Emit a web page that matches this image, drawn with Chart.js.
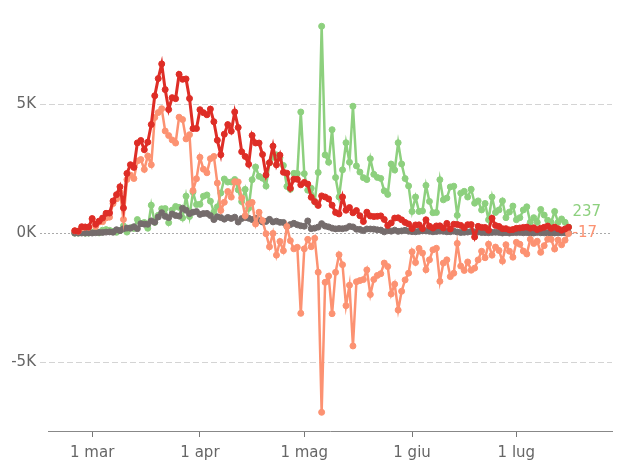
<!DOCTYPE html>
<html>
<head>
<meta charset="utf-8">
<script src="https://cdn.jsdelivr.net/npm/chart.js@4.4.1/dist/chart.umd.min.js"></script>
<style>
  html, body { margin: 0; padding: 0; background: #fff; }
  #wrap { width: 621px; height: 461px; }
</style>
</head>
<body>
<div id="wrap"><canvas id="chart" width="621" height="461"></canvas></div>
<script>
// giorno per giorno dal 25 febbraio al 16 luglio 2020
const startDate = '2020-02-25';

const nuoviPositivi = [
  93, 78, 250, 238, 240,
  566, 342, 466, 587, 769, 778, 1247, 1492, 1797, 977, 2313, 2651, 2547, 3497, 3590, 3233, 3526, 4207, 5322, 5986, 6557, 5560, 4789, 5249, 5210, 6153, 5959, 5974, 5217, 4050, 4053,
  4782, 4668, 4585, 4805, 4316, 3599, 3039, 3836, 4204, 3951, 4694, 4092, 3153, 2972, 2667, 3786, 3493, 3491, 3047, 2256, 2729, 3370, 2646, 3021, 2357, 2324, 1739, 2091, 2086, 1872,
  1965, 1900, 1389, 1221, 1075, 1444, 1401, 1327, 1083, 802, 744, 1402, 888, 992, 789, 875, 675, 451, 813, 665, 642, 652, 669, 531, 300, 397, 584, 593, 516, 416, 355,
  178, 318, 321, 177, 518, 270, 197, 280, 283, 202, 379, 163, 346, 338, 301, 210, 328, 331, -148, 264, 224, 221, 113, 577, 296, 259, 175, 174, 126, 142,
  187, 201, 223, 235, 192, 208, 138, 193, 229, 276, 188, 234, 169, 114, 162, 230
];

const variazionePositivi = [
  90, 74, 203, 233, 228,
  528, 258, 428, 443, 590, 620, 1145, 1326, 1598, 529, 2076, 2249, 2116, 2795, 2853, 2470, 2989, 2648, 4480, 4670, 4821, 3957, 3780, 3612, 3491, 4492, 4401, 3651, 3815, 1648, 2107,
  2937, 2477, 2339, 2886, 2972, 1941, 880, 1195, 1615, 1396, 1996, 1984, 1363, 675, 1127, 1189, 355, 809, 486, -20, -528, -10, -851, -321, -680, 256, -290, -608, -548, -3106,
  -608, -239, -525, -199, -1513, -6939, -1904, -1663, -3119, -1518, -836, -1222, -2809, -2017, -4370, -1883, -1836, -1798, -1424, -2377, -1792, -1638, -1570, -1158, -1294, -2358, -1976, -2980, -2250, -1810, -1550,
  -722, -1137, -590, -771, -1417, -1032, -646, -585, -1866, -1159, -1034, -1683, -1552, -396, -1275, -1444, -1115, -1435, -1355, -1035, -700, -952, -425, -853, -538, -671, -1083, -448, -700, -931,
  -354, -429, -692, -806, -235, -400, -312, -742, -483, -236, -239, -615, -264, -453, -271, -17
];

const guariti = [
  0, 2, 42, 1, 4,
  33, 66, 11, 116, 138, 109, 66, 33, 102, 280, 41, 213, 181, 527, 369, 414, 192, 1084, 415, 689, 943, 952, 408, 894, 1036, 999, 589, 1434, 646, 1590, 1109,
  1118, 1431, 1480, 1238, 819, 1022, 1555, 2099, 1979, 1985, 2079, 1677, 1224, 1695, 962, 2072, 2563, 2200, 2128, 1822, 2723, 2943, 3033, 2922, 2622, 1808, 1696, 2317, 2311, 4693,
  2304, 1665, 1740, 1225, 2352, 8014, 3031, 2747, 4008, 2155, 1401, 2452, 3502, 2747, 4917, 2605, 2366, 2150, 2075, 2881, 2278, 2160, 2120, 1639, 1502, 2677, 2443, 3503, 2679, 2115, 1830,
  840, 1400, 840, 860, 1850, 1230, 790, 800, 2070, 1290, 1360, 1790, 1820, 690, 1550, 1620, 1400, 1700, 1160, 1250, 900, 1150, 520, 1400, 800, 900, 1250, 600, 820, 1050,
  520, 600, 900, 1020, 420, 600, 420, 920, 700, 500, 420, 840, 420, 550, 420, 237
];

const deceduti = [
  3, 2, 5, 4, 8,
  5, 18, 27, 28, 41, 49, 36, 133, 97, 168, 196, 189, 250, 175, 368, 349, 345, 475, 427, 627, 793, 651, 601, 743, 683, 662, 969, 889, 756, 812, 837,
  727, 760, 766, 681, 525, 636, 604, 542, 610, 570, 619, 431, 566, 602, 578, 525, 575, 482, 433, 454, 534, 437, 464, 420, 415, 260, 333, 382, 323, 285,
  269, 474, 174, 195, 236, 369, 274, 243, 194, 165, 179, 172, 195, 262, 242, 153, 145, 99, 162, 161, 156, 130, 119, 50, 92, 78, 117, 70, 87, 111, 75,
  60, 55, 71, 88, 85, 72, 53, 65, 79, 71, 53, 56, 78, 44, 26, 34, 43, 66, 47, 49, 24, 23, 18, 30, 34, 30, 8, 22, 6, 23,
  21, 30, 15, 21, 7, 8, 30, 15, 12, 12, 7, 9, 13, 17, 13, 10
];

const meseTicks = ['2020-03-01', '2020-04-01', '2020-05-01', '2020-06-01', '2020-07-01'];
const meseLabels = ['1 mar', '1 apr', '1 mag', '1 giu', '1 lug'];
const yTicks = [-5000, 0, 5000];
const yLabels = ['-5K', '0K', '5K'];

// giorni dall'inizio dell'anno
function dayOf(s) {
  const p = s.split('-').map(Number);
  return (Date.UTC(p[0], p[1] - 1, p[2]) - Date.UTC(2020, 0, 1)) / 86400000;
}
const day0 = dayOf(startDate);
const toPoints = arr => arr.map((v, i) => ({ x: day0 + i, y: v }));

const gridLines = {
  id: 'gridLines',
  beforeDatasetsDraw(chart) {
    const { ctx, chartArea } = chart;
    const ys = chart.scales.y;
    ctx.save();
    ctx.lineWidth = 1;
    yTicks.forEach(v => {
      const py = Math.round(ys.getPixelForValue(v)) + 0.5;
      ctx.setLineDash(v === 0 ? [2, 2] : [6, 3]);
      ctx.strokeStyle = v === 0 ? '#aaaaaa' : '#d4d4d4';
      ctx.beginPath();
      ctx.moveTo(chartArea.left - 8, py);
      ctx.lineTo(chartArea.right, py);
      ctx.stroke();
    });
    ctx.restore();
  }
};

// etichette con l'ultimo valore, spostate se si sovrappongono
const endLabels = {
  id: 'endLabels',
  afterDatasetsDraw(chart) {
    const { ctx } = chart;
    const items = [];
    chart.data.datasets.forEach((ds, i) => {
      if (!ds.endLabel) return;
      const meta = chart.getDatasetMeta(i);
      const pt = meta.data[meta.data.length - 1];
      const v = ds.data[ds.data.length - 1].y;
      items.push({ x: pt.x, y: pt.y, text: String(v), color: ds.borderColor });
    });
    items.sort((a, b) => b.y - a.y);
    for (let i = 1; i < items.length; i++) {
      if (items[i - 1].y - items[i].y < 21) items[i].y = items[i - 1].y - 21;
    }
    ctx.save();
    ctx.font = '15px "DejaVu Sans", Verdana, sans-serif';
    ctx.textAlign = 'left';
    ctx.textBaseline = 'middle';
    items.forEach(it => {
      ctx.fillStyle = it.color;
      ctx.fillText(it.text, it.x + 4, it.y);
    });
    ctx.restore();
  }
};

Chart.defaults.font.family = '"DejaVu Sans", Verdana, sans-serif';
Chart.defaults.font.size = 15;

const serie = (label, arr, color, width, endLabel) => ({
  label,
  data: toPoints(arr),
  borderColor: color,
  backgroundColor: color,
  borderWidth: width,
  pointRadius: 3,
  pointBorderWidth: 1,
  pointBorderColor: color,
  pointBackgroundColor: color,
  tension: 0,
  endLabel
});

new Chart(document.getElementById('chart'), {
  type: 'line',
  data: {
    datasets: [
      serie('Nuovi positivi', nuoviPositivi, '#de2d26', 3, false),
      serie('Variazione positivi', variazionePositivi, '#fc9272', 2.5, true),
      serie('Deceduti', deceduti, '#756c6c', 2.5, false),
      serie('Guariti', guariti, '#8dd07e', 2.5, true)
    ]
  },
  options: {
    responsive: false,
    animation: false,
    layout: { padding: { top: 7, right: 9, left: 0, bottom: 0 } },
    plugins: {
      legend: { display: false },
      tooltip: { enabled: false }
    },
    scales: {
      x: {
        type: 'linear',
        min: 47.3,
        max: 209.5,
        afterBuildTicks: s => { s.ticks = meseTicks.map(d => ({ value: dayOf(d) })); },
        afterFit: s => { s.height = 30; s.paddingLeft = 0; s.paddingRight = 0; },
        ticks: {
          autoSkip: false,
          maxRotation: 0,
          padding: 7,
          color: '#666',
          callback: (v, i) => meseLabels[i]
        },
        grid: { drawOnChartArea: false, drawTicks: true, tickLength: 6, color: '#777' },
        border: { display: true, color: '#888' }
      },
      y: {
        min: -7663,
        max: 8760,
        afterBuildTicks: s => { s.ticks = yTicks.map(v => ({ value: v })); },
        afterFit: s => { s.width = 48; s.paddingTop = 0; s.paddingBottom = 0; },
        ticks: {
          padding: 4,
          color: '#666',
          callback: (v, i) => yLabels[i]
        },
        grid: { display: false },
        border: { display: false }
      }
    }
  },
  plugins: [gridLines, endLabels]
});
</script>
</body>
</html>
